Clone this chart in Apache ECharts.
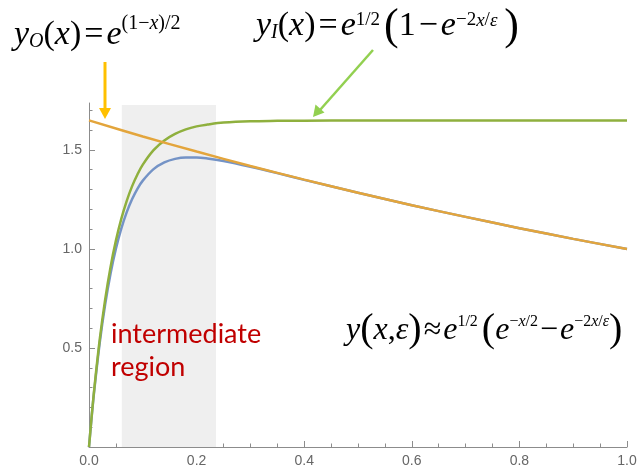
<!DOCTYPE html>
<html>
<head>
<meta charset="utf-8">
<script src="https://cdn.jsdelivr.net/npm/echarts@6/dist/echarts.min.js"></script>
<style>html,body{margin:0;padding:0;background:#fff;}#c{width:643px;height:470px;}</style>
</head>
<body>
<div id="c"></div>
<script>
// ---- data ----
const xInner = [0,0.005,0.01,0.02,0.03,0.04,0.05,0.06,0.07,0.08,0.09,0.10,0.12,0.14,0.16,0.18,0.20,0.22,0.25,0.30,0.35,0.40,0.50,0.60,0.70,0.80,0.90,1.00];
const innerY = [0,0.157,0.299,0.544,0.744,0.908,1.042,1.152,1.242,1.316,1.376,1.426,1.499,1.548,1.581,1.604,1.619,1.628,1.638,1.645,1.647,1.648,1.649,1.649,1.649,1.649,1.649,1.649];
const compositeY = [0,0.153,0.291,0.527,0.719,0.875,1.001,1.103,1.185,1.251,1.304,1.345,1.403,1.437,1.455,1.462,1.462,1.457,1.444,1.415,1.383,1.349,1.284,1.221,1.162,1.105,1.051,1.000];
const xOuter = [0,0.1,0.2,0.3,0.4,0.5,0.6,0.7,0.8,0.9,1.0];
const outerY = [1.649,1.568,1.492,1.419,1.350,1.284,1.221,1.162,1.105,1.051,1.000];
const bandRange = [0.061, 0.236];
const xMajor = [0,0.2,0.4,0.6,0.8,1.0];
const xTickLabels = ['0.0','0.2','0.4','0.6','0.8','1.0'];
const xMinor = [0.05,0.1,0.15,0.25,0.3,0.35,0.45,0.5,0.55,0.65,0.7,0.75,0.85,0.9,0.95];
const yMajor = [0.5,1.0,1.5];
const yTickLabels = ['0.5','1.0','1.5'];
const yMinor = [0.1,0.2,0.3,0.4,0.6,0.7,0.8,0.9,1.1,1.2,1.3,1.4,1.6,1.7];
const yMax = 1.737;

const pairs = (xs, ys) => xs.map((x, i) => [x, ys[i]]);
const fmtX = v => { const i = xMajor.findIndex(m => Math.abs(m - v) < 1e-9); return i >= 0 ? xTickLabels[i] : ''; };
const fmtY = v => { const i = yMajor.findIndex(m => Math.abs(m - v) < 1e-9); return i >= 0 ? yTickLabels[i] : ''; };

const axisCol = '#8c8c8c';
const serif = 'Liberation Serif';
function makeRich(fs, ss, subS, bs, H, opPad) {
  const base = {fontFamily: serif, color: '#000'};
  return {
    v:   Object.assign({}, base, {fontStyle: 'italic', fontSize: fs, lineHeight: H, verticalAlign: 'bottom'}),
    r:   Object.assign({}, base, {fontSize: fs, lineHeight: H, verticalAlign: 'bottom'}),
    ro:  Object.assign({}, base, {fontSize: fs, lineHeight: H, verticalAlign: 'bottom', padding: [0, opPad, 0, opPad]}),
    sub: Object.assign({}, base, {fontStyle: 'italic', fontSize: subS, lineHeight: subS, verticalAlign: 'bottom'}),
    sup: Object.assign({}, base, {fontSize: ss, lineHeight: ss, verticalAlign: 'top'}),
    supi:Object.assign({}, base, {fontStyle: 'italic', fontSize: ss, lineHeight: ss, verticalAlign: 'top'}),
    bp:  Object.assign({}, base, {fontSize: bs, lineHeight: H, verticalAlign: 'middle'}),
    bpl: Object.assign({}, base, {fontSize: bs, lineHeight: H, verticalAlign: 'middle', padding: [0, 0, 0, 4]}),
    bpr: Object.assign({}, base, {fontSize: bs, lineHeight: H, verticalAlign: 'middle', padding: [0, 0, 0, 7]})
  };
}

const chart = echarts.init(document.getElementById('c'), null, {renderer: 'canvas'});
chart.setOption({
  animation: false,
  backgroundColor: '#fff',
  grid: {left: 89, right: 16, top: 103, bottom: 23, containLabel: false},
  xAxis: [
    {type: 'value', min: 0, max: 1, position: 'bottom',
     axisLine: {show: true, onZero: false, lineStyle: {color: axisCol, width: 1}},
     axisTick: {show: true, inside: true, length: 6, customValues: xMajor, lineStyle: {color: axisCol}},
     axisLabel: {customValues: xMajor, formatter: fmtX, color: '#666', fontSize: 14, fontFamily: 'Liberation Sans', margin: 7},
     splitLine: {show: false}},
    {type: 'value', min: 0, max: 1, position: 'bottom',
     axisLine: {show: false, onZero: false},
     axisTick: {show: true, inside: true, length: 3.5, customValues: xMinor, lineStyle: {color: axisCol}},
     axisLabel: {show: false}, splitLine: {show: false}}
  ],
  yAxis: [
    {type: 'value', min: 0, max: yMax, position: 'left',
     axisLine: {show: true, onZero: false, lineStyle: {color: axisCol, width: 1}},
     axisTick: {show: true, inside: true, length: 6, customValues: yMajor, lineStyle: {color: axisCol}},
     axisLabel: {customValues: yMajor, formatter: fmtY, color: '#666', fontSize: 14, fontFamily: 'Liberation Sans', margin: 7},
     splitLine: {show: false}},
    {type: 'value', min: 0, max: yMax, position: 'left',
     axisLine: {show: false, onZero: false},
     axisTick: {show: true, inside: true, length: 3.5, customValues: yMinor, lineStyle: {color: axisCol}},
     axisLabel: {show: false}, splitLine: {show: false}}
  ],
  series: [
    {name: 'composite', type: 'line', xAxisIndex: 0, yAxisIndex: 0, data: pairs(xInner, compositeY),
     smooth: 0.35, showSymbol: false, lineStyle: {color: '#7493c6', width: 2.5}, z: 3,
     markArea: {silent: true, itemStyle: {color: '#efefef'},
       data: [[{xAxis: bandRange[0], yAxis: 0}, {xAxis: bandRange[1], yAxis: 1.727}]]}},
    {name: 'inner', type: 'line', xAxisIndex: 0, yAxisIndex: 0, data: pairs(xInner, innerY),
     smooth: 0.35, showSymbol: false, lineStyle: {color: '#8fb03e', width: 2.5}, z: 4},
    {name: 'outer', type: 'line', xAxisIndex: 0, yAxisIndex: 0, data: pairs(xOuter, outerY),
     smooth: 0.35, showSymbol: false, lineStyle: {color: '#e3a53c', width: 2.5}, z: 5}
  ],
  graphic: [
    {type: 'text', x: 14, y: 52, z: 10, style: {align: 'left', verticalAlign: 'bottom', rich: makeRich(34, 20, 20, 44, 38, 3),
      text: '{v|y}{sub|O}{r|(}{v|x}{r|)}{ro|=}{v|e}{sup|(1−}{supi|x}{sup|)/2}'}},
    {type: 'text', x: 256, y: 43, z: 10, style: {align: 'left', verticalAlign: 'bottom', rich: makeRich(34, 19, 20, 44, 32, 3),
      text: '{v|y}{sub|I}{r|(}{v|x}{r|)}{ro|=}{v|e}{sup|1/2}{bpl|(}{r|1}{ro|−}{v|e}{sup|−2}{supi|x}{sup|/}{supi|ε}{bpr|)}'}},
    {type: 'text', x: 346, y: 347, z: 10, style: {align: 'left', verticalAlign: 'bottom', rich: makeRich(32, 16, 18, 40, 33, 2),
      text: '{v|y}{bp|(}{v|x}{r|,}{v|ε}{bp|)}{ro|≈}{v|e}{sup|1/2}{bpl|(}{v|e}{sup|−}{supi|x}{sup|/2}{ro|−}{v|e}{sup|−2}{supi|x}{sup|/}{supi|ε}{bp|)}'}},
    {type: 'text', x: 111, y: 318, z: 10, style: {text: 'intermediate\nregion', fontFamily: 'Lato', fontSize: 27, lineHeight: 33, fill: '#c00000', align: 'left', verticalAlign: 'top'}},
    {type: 'line', z: 10, shape: {x1: 105, y1: 62, x2: 105, y2: 110}, style: {stroke: '#ffc000', lineWidth: 3}},
    {type: 'polygon', z: 10, shape: {points: [[99, 108], [111, 108], [105, 119]]}, style: {fill: '#ffc000'}},
    {type: 'line', z: 10, shape: {x1: 373, y1: 50, x2: 320, y2: 110}, style: {stroke: '#92d050', lineWidth: 2.5}},
    {type: 'polygon', z: 10, shape: {points: [[313, 117], [315.5, 104.5], [324.5, 112.5]]}, style: {fill: '#92d050'}}
  ]
});
</script>
</body>
</html>
